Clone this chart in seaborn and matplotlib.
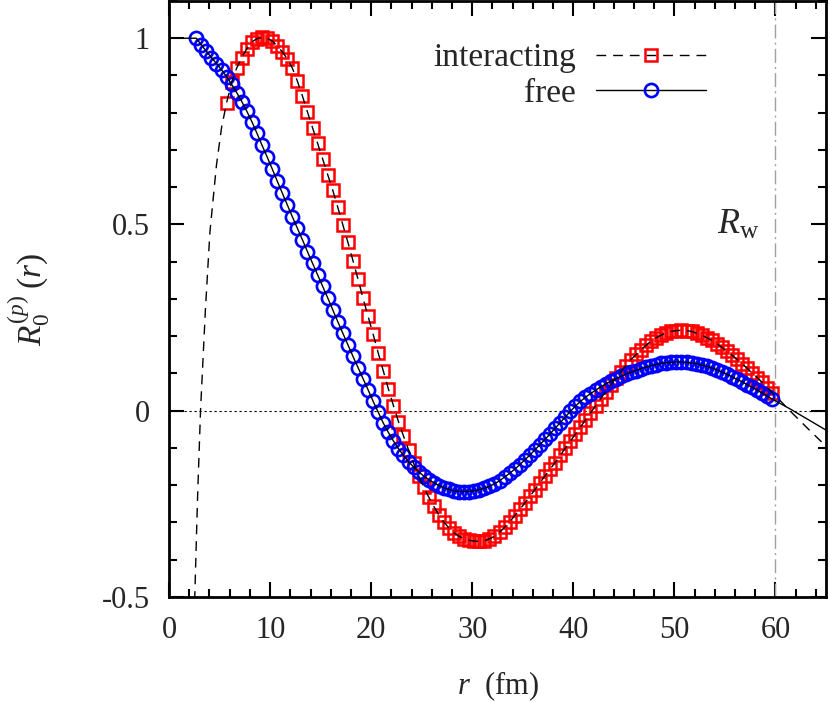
import pandas as pd
import matplotlib.pyplot as plt
import seaborn as sns
from matplotlib.lines import Line2D
from matplotlib.ticker import MultipleLocator

# radial mesh where the markers sit (fm)
r_mesh = [2.7, 3.2, 3.7, 4.2, 4.7, 5.2, 5.7, 6.2, 6.7, 7.2,
          7.7, 8.2, 8.7, 9.2, 9.7, 10.2, 10.7, 11.2, 11.7, 12.2,
          12.7, 13.2, 13.7, 14.2, 14.7, 15.2, 15.7, 16.2, 16.7, 17.2,
          17.7, 18.2, 18.7, 19.2, 19.7, 20.2, 20.7, 21.2, 21.7, 22.2,
          22.7, 23.2, 23.7, 24.2, 24.7, 25.2, 25.7, 26.2, 26.7, 27.2,
          27.7, 28.2, 28.7, 29.2, 29.7, 30.2, 30.7, 31.2, 31.7, 32.2,
          32.7, 33.2, 33.7, 34.2, 34.7, 35.2, 35.7, 36.2, 36.7, 37.2,
          37.7, 38.2, 38.7, 39.2, 39.7, 40.2, 40.7, 41.2, 41.7, 42.2,
          42.7, 43.2, 43.7, 44.2, 44.7, 45.2, 45.7, 46.2, 46.7, 47.2,
          47.7, 48.2, 48.7, 49.2, 49.7, 50.2, 50.7, 51.2, 51.7, 52.2,
          52.7, 53.2, 53.7, 54.2, 54.7, 55.2, 55.7, 56.2, 56.7, 57.2,
          57.7, 58.2, 58.7, 59.2, 59.7]

free_vals = [1.000, 0.982, 0.965, 0.948, 0.932, 0.915, 0.897, 0.876, 0.854, 0.830,
             0.804, 0.776, 0.745, 0.713, 0.682, 0.650, 0.617, 0.585, 0.553, 0.521,
             0.490, 0.459, 0.427, 0.396, 0.365, 0.334, 0.303, 0.271, 0.239, 0.208,
             0.177, 0.146, 0.116, 0.086, 0.056, 0.025, -0.004, -0.033, -0.058, -0.081,
             -0.102, -0.120, -0.137, -0.151, -0.164, -0.175, -0.185, -0.193, -0.201, -0.207,
             -0.211, -0.215, -0.217, -0.217, -0.217, -0.215, -0.212, -0.208, -0.203, -0.196,
             -0.188, -0.178, -0.168, -0.157, -0.145, -0.132, -0.119, -0.105, -0.091, -0.077,
             -0.062, -0.047, -0.032, -0.017, -0.002, 0.012, 0.025, 0.036, 0.046, 0.055,
             0.064, 0.072, 0.079, 0.086, 0.092, 0.098, 0.103, 0.108, 0.113, 0.117,
             0.121, 0.124, 0.127, 0.129, 0.130, 0.131, 0.131, 0.130, 0.128, 0.126,
             0.123, 0.119, 0.115, 0.110, 0.104, 0.098, 0.091, 0.084, 0.078, 0.070,
             0.063, 0.055, 0.047, 0.039, 0.031]

# interacting markers start at r_mesh[6] = 5.7 fm
inter_start = 6
inter_vals = [0.827, 0.882, 0.920, 0.948,
              0.972, 0.990, 0.999, 1.002, 1.000, 0.993, 0.980, 0.964, 0.945, 0.920,
              0.885, 0.845, 0.802, 0.760, 0.718, 0.676, 0.634, 0.592, 0.546, 0.499,
              0.452, 0.403, 0.353, 0.302, 0.253, 0.205, 0.155, 0.107, 0.059, 0.014,
              -0.029, -0.068, -0.105, -0.141, -0.175, -0.205, -0.232, -0.257, -0.280, -0.299,
              -0.315, -0.328, -0.337, -0.344, -0.348, -0.350, -0.351, -0.349, -0.344, -0.337,
              -0.326, -0.313, -0.298, -0.282, -0.265, -0.248, -0.230, -0.212, -0.193, -0.175,
              -0.157, -0.139, -0.120, -0.101, -0.082, -0.063, -0.044, -0.025, -0.006, 0.013,
              0.032, 0.051, 0.069, 0.087, 0.105, 0.121, 0.137, 0.151, 0.164, 0.176,
              0.187, 0.196, 0.203, 0.209, 0.213, 0.215, 0.216, 0.215, 0.213, 0.208,
              0.203, 0.196, 0.189, 0.180, 0.170, 0.160, 0.149, 0.138, 0.126, 0.114,
              0.101, 0.089, 0.076, 0.062, 0.048]

# parts of the curves drawn only as lines (no markers)
inter_head_r = [2.45, 2.56, 2.83, 3.12, 3.6, 4.05, 4.7, 5.2]
inter_head_v = [-0.60, -0.49, -0.23, 0.0, 0.27, 0.48, 0.66, 0.76]
free_head_r = [1.5]
free_head_v = [1.0]
tail_r = [60.5, 61.5, 62.5, 63.5, 64.5, 65.0]
inter_tail_v = [0.026, -0.002, -0.029, -0.056, -0.082, -0.095]
free_tail_v = [0.019, 0.004, -0.012, -0.028, -0.044, -0.052]

R_wall = 60

sns.set_theme(style="ticks")
plt.rcParams['font.family'] = ['Liberation Serif', 'DejaVu Serif']
plt.rcParams['mathtext.fontset'] = 'custom'
plt.rcParams['mathtext.rm'] = 'Liberation Serif'
plt.rcParams['mathtext.it'] = 'Liberation Serif:italic'

fig = plt.figure(figsize=(8.3, 7.02), dpi=100)
ax = fig.add_axes([0.2036, 0.1496, 0.7916, 0.849])

free_line = pd.DataFrame({"r": free_head_r + r_mesh + tail_r,
                          "R": free_head_v + free_vals + free_tail_v})
inter_line = pd.DataFrame({"r": inter_head_r + r_mesh[inter_start:] + tail_r,
                           "R": inter_head_v + inter_vals + inter_tail_v})
free_pts = pd.DataFrame({"r": r_mesh, "R": free_vals})
inter_pts = pd.DataFrame({"r": r_mesh[inter_start:], "R": inter_vals})

ax.axhline(0, color="black", lw=0.8, ls=(0, (2, 2.5)), zorder=1)
ax.axvline(R_wall, color="#a0a0a0", lw=1.0, ls=(0, (10, 3, 1.5, 3)), zorder=1)

sns.lineplot(data=inter_pts, x="r", y="R", ax=ax, color="red", linestyle="none",
             marker="s", markersize=8.5, markerfacecolor="none",
             markeredgecolor="red", markeredgewidth=1.8, zorder=2)
sns.lineplot(data=free_pts, x="r", y="R", ax=ax, color="blue", linestyle="none",
             marker="o", markersize=9.5, markerfacecolor="none",
             markeredgecolor="blue", markeredgewidth=1.9, zorder=2)
sns.lineplot(data=inter_line, x="r", y="R", ax=ax, color="black", lw=1.0,
             linestyle=(0, (7, 5)), sort=False, zorder=3)
sns.lineplot(data=free_line, x="r", y="R", ax=ax, color="black", lw=1.0,
             sort=False, zorder=3)

ax.set_xlim(0, 65)
ax.set_ylim(-0.5, 1.1)
ax.xaxis.set_major_locator(MultipleLocator(10))
ax.xaxis.set_minor_locator(MultipleLocator(2))
ax.set_yticks([-0.5, 0, 0.5, 1])
ax.set_yticklabels(["-0.5", "0", "0.5", "1"])
ax.yaxis.set_minor_locator(MultipleLocator(0.1))
ax.tick_params(which="both", direction="in", top=True, right=True,
               width=1.5, labelsize=22, color="black")
ax.tick_params(which="major", length=11)
ax.tick_params(which="minor", length=5.5)
ax.tick_params(axis="y", pad=14)
ax.tick_params(axis="x", pad=14)
for sp in ax.spines.values():
    sp.set_linewidth(2)
    sp.set_color("black")

ax.set_xlabel(r"$r$  (fm)", fontsize=22, labelpad=17)
ax.set_ylabel(r"$R_0^{(p)}\;(r)$", fontsize=24)
ax.yaxis.set_label_coords(-0.178, 0.5)

ax.text(58.4, 0.476, r"$R_{\rm w}$", ha="right", va="baseline", fontsize=26)

h_inter = Line2D([], [], color="black", lw=1.0, ls=(0, (7, 5)), marker="s",
                 markersize=8.5, markerfacecolor="none", markeredgecolor="red",
                 markeredgewidth=1.8)
h_free = Line2D([], [], color="black", lw=1.0, marker="o", markersize=9.5,
                markerfacecolor="none", markeredgecolor="blue", markeredgewidth=1.9)
ax.legend([h_inter, h_free], ["interacting", "free"], loc="upper right",
          bbox_to_anchor=(0.817, 0.93), frameon=False, markerfirst=False,
          fontsize=24, handlelength=3.3, handletextpad=0.6, labelspacing=0.15,
          borderaxespad=0, borderpad=0, numpoints=1)

fig.savefig("out.png", dpi=100)
